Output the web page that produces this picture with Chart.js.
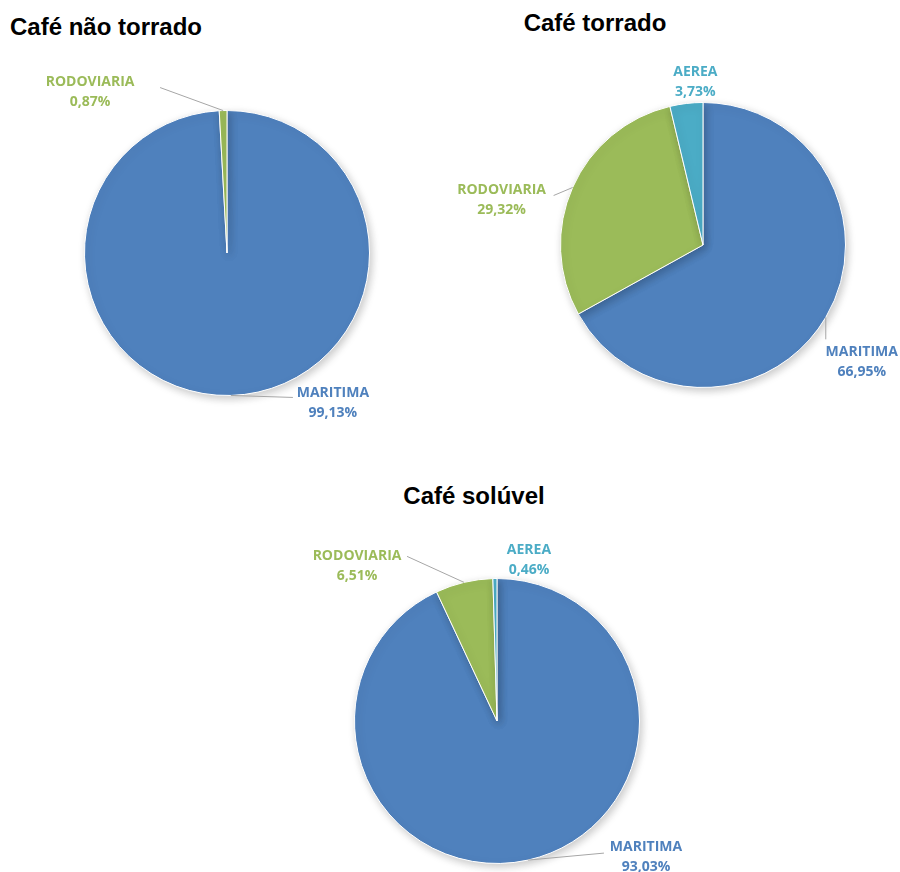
<!DOCTYPE html>
<html>
<head>
<meta charset="utf-8">
<script src="https://cdn.jsdelivr.net/npm/chart.js@4.4.1/dist/chart.umd.min.js"></script>
<style>
  body { margin: 0; background: #fff; }
  #wrap { position: relative; width: 900px; height: 872px; overflow: hidden; }
  #wrap canvas { position: absolute; left: 0; top: 0; }
  .titulo { position: absolute; font: bold 24px "Liberation Sans", Arial, sans-serif; color: #000; white-space: nowrap; }
</style>
</head>
<body>
<div id="wrap">
  <div class="titulo" style="left:10px; top:13px;">Café não torrado</div>
  <div class="titulo" style="left:595px; top:9px; transform:translateX(-50%);">Café torrado</div>
  <div class="titulo" style="left:474px; top:482px; transform:translateX(-50%);">Café solúvel</div>
  <canvas id="pie1" width="900" height="872"></canvas>
  <canvas id="pie2" width="900" height="872"></canvas>
  <canvas id="pie3" width="900" height="872"></canvas>
</div>
<script>
const naoTorradoLabels = ["MARITIMA", "RODOVIARIA"];
const naoTorradoValues = [99.13, 0.87];

const torradoLabels = ["MARITIMA", "RODOVIARIA", "AEREA"];
const torradoValues = [66.95, 29.32, 3.73];

const soluvelLabels = ["MARITIMA", "RODOVIARIA", "AEREA"];
const soluvelValues = [93.03, 6.51, 0.46];

const cores = { MARITIMA: "#4f81bd", RODOVIARIA: "#9bbb59", AEREA: "#4bacc6" };

// label placement: offset from slice mid point on the rim, leader end relative to label centre
const layout1 = { cx: 227, cy: 253, r: 143,
  offsets: [[102, 8], [-133, -19]], leaders: [[-40, -6], [70, -4]] };
const layout2 = { cx: 703, cy: 245, r: 143,
  offsets: [[36, 45], [-71, 13], [9, -21]], leaders: [[-36, -23], [52, -5], null] };
const layout3 = { cx: 497, cy: 721, r: 143,
  offsets: [[118, -3], [-107, -16], [34, -18]], leaders: [[-42, -4], [50, -10], null] };

function fmt(v) {
  return v.toFixed(2).replace(".", ",") + "%";
}

// soft shadow under the pie, like the spreadsheet original
const sombra = {
  id: "sombra",
  beforeDatasetsDraw(chart) {
    const ctx = chart.ctx;
    ctx.save();
    ctx.shadowColor = "rgba(0,0,0,0.22)";
    ctx.shadowBlur = 8;
    ctx.shadowOffsetX = 2;
    ctx.shadowOffsetY = 3;
  },
  afterDatasetsDraw(chart) {
    chart.ctx.restore();
  }
};

const rotulos = {
  id: "rotulos",
  afterDatasetsDraw(chart, args, opts) {
    const ctx = chart.ctx;
    const meta = chart.getDatasetMeta(0);
    const labels = chart.data.labels;
    const values = chart.data.datasets[0].data;
    meta.data.forEach((arc, i) => {
      const p = arc.getProps(["x", "y", "startAngle", "endAngle", "outerRadius"], true);
      const mid = (p.startAngle + p.endAngle) / 2;
      const ax = p.x + Math.cos(mid) * p.outerRadius;
      const ay = p.y + Math.sin(mid) * p.outerRadius;
      const off = opts.offsets[i];
      const lx = ax + off[0];
      const ly = ay + off[1];
      const ld = opts.leaders[i];
      ctx.save();
      if (ld) {
        ctx.strokeStyle = "#a6a6a6";
        ctx.lineWidth = 1;
        ctx.beginPath();
        ctx.moveTo(ax, ay);
        ctx.lineTo(lx + ld[0], ly + ld[1]);
        ctx.stroke();
      }
      ctx.fillStyle = cores[labels[i]];
      ctx.font = "bold 14px 'Open Sans', 'Noto Sans', sans-serif";
      ctx.textAlign = "center";
      ctx.textBaseline = "middle";
      ctx.fillText(labels[i], lx, ly - 10);
      ctx.fillText(fmt(values[i]), lx, ly + 10);
      ctx.restore();
    });
  }
};

function criarPizza(id, labels, values, lay) {
  new Chart(document.getElementById(id), {
    type: "pie",
    data: {
      labels: labels,
      datasets: [{
        data: values,
        backgroundColor: labels.map(l => cores[l]),
        borderColor: "#ffffff",
        borderWidth: 1
      }]
    },
    options: {
      responsive: false,
      animation: false,
      layout: {
        padding: {
          left: lay.cx - lay.r,
          right: 900 - lay.cx - lay.r,
          top: lay.cy - lay.r,
          bottom: 872 - lay.cy - lay.r
        }
      },
      plugins: {
        legend: { display: false },
        tooltip: { enabled: false },
        rotulos: { offsets: lay.offsets, leaders: lay.leaders }
      }
    },
    plugins: [sombra, rotulos]
  });
}

criarPizza("pie1", naoTorradoLabels, naoTorradoValues, layout1);
criarPizza("pie2", torradoLabels, torradoValues, layout2);
criarPizza("pie3", soluvelLabels, soluvelValues, layout3);
</script>
</body>
</html>
